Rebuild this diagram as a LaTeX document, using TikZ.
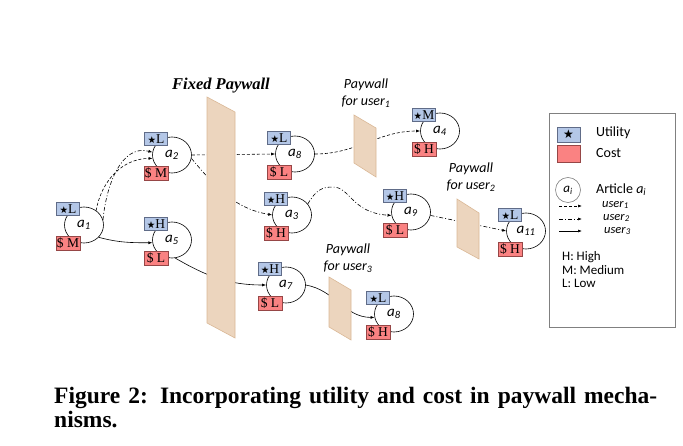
\documentclass[tikz,border=0pt]{standalone}
\usepackage{fontspec}
\setmainfont{Carlito}
\newfontfamily\serfont{Liberation Serif}
\newfontfamily\symfont{DejaVu Sans}
\usetikzlibrary{arrows.meta,shapes.geometric}
\definecolor{utilfill}{RGB}{180,199,231}
\definecolor{utilline}{RGB}{96,108,136}
\definecolor{costfill}{RGB}{250,130,130}
\definecolor{costline}{RGB}{150,70,70}
\definecolor{wallfill}{RGB}{236,213,190}
\definecolor{wallline}{RGB}{218,184,150}
\newcommand{\blackstar}{{\symfont\fontsize{9.5}{9.5}\selectfont ★}}
\begin{document}
\begin{tikzpicture}[x=1pt,y=-1pt,>={Latex[length=4pt,width=3pt]},
  article/.style={ellipse,draw,line width=0.6pt,minimum width=39pt,minimum height=36pt,inner sep=0pt,font=\fontsize{15}{15}\selectfont\itshape},
  utility/.style={draw=utilline,fill=utilfill,minimum width=23pt,minimum height=13pt,inner sep=0pt,font=\serfont\fontsize{13.5}{13.5}\selectfont},
  cost/.style={draw=costline,fill=costfill,minimum width=24pt,minimum height=14pt,inner sep=0pt,font=\serfont\fontsize{13.5}{13.5}\selectfont},
  wall/.style={draw=wallline,fill=wallfill,line width=0.6pt},
  walllabel/.style={align=center,font=\fontsize{14}{17}\selectfont\itshape},
  user1/.style={->,line width=0.6pt,dash pattern=on 3pt off 2pt},
  user2/.style={->,line width=0.6pt,dash pattern=on 4pt off 2pt on 1pt off 2pt},
  user3/.style={->,line width=0.6pt},
  legendtext/.style={anchor=west,inner sep=0pt,font=\fontsize{14}{14}\selectfont}]
\useasboundingbox (0,0) rectangle (683,446);

% articles
\node[article] (a1) at (84,225) {a\textsubscript{1}};
\node[utility] (u1) at ([shift={(-16,-16)}]a1) {\blackstar L};
\node[cost] (c1) at ([shift={(-16,18)}]a1) {\$ M};
\node[article] (a2) at (172,155) {a\textsubscript{2}};
\node[utility] (u2) at ([shift={(-16,-16)}]a2) {\blackstar L};
\node[cost] (c2) at ([shift={(-16,18)}]a2) {\$ M};
\node[article] (a5) at (172,240) {a\textsubscript{5}};
\node[utility] (u5) at ([shift={(-16,-16)}]a5) {\blackstar H};
\node[cost] (c5) at ([shift={(-16,18)}]a5) {\$ L};
\node[article] (a8t) at (295,154) {a\textsubscript{8}};
\node[utility] (u8t) at ([shift={(-16,-16)}]a8t) {\blackstar L};
\node[cost] (c8t) at ([shift={(-16,18)}]a8t) {\$ L};
\node[article] (a3) at (292,215) {a\textsubscript{3}};
\node[utility] (u3) at ([shift={(-16,-16)}]a3) {\blackstar H};
\node[cost] (c3) at ([shift={(-16,18)}]a3) {\$ H};
\node[article] (a7) at (286,285) {a\textsubscript{7}};
\node[utility] (u7) at ([shift={(-16,-16)}]a7) {\blackstar H};
\node[cost] (c7) at ([shift={(-16,18)}]a7) {\$ L};
\node[article] (a4) at (440,131) {a\textsubscript{4}};
\node[utility] (u4) at ([shift={(-16,-16)}]a4) {\blackstar M};
\node[cost] (c4) at ([shift={(-16,18)}]a4) {\$ H};
\node[article] (a9) at (411,212) {a\textsubscript{9}};
\node[utility] (u9) at ([shift={(-16,-16)}]a9) {\blackstar H};
\node[cost] (c9) at ([shift={(-16,18)}]a9) {\$ L};
\node[article] (a8b) at (394,314) {a\textsubscript{8}};
\node[utility] (u8b) at ([shift={(-16,-16)}]a8b) {\blackstar L};
\node[cost] (c8b) at ([shift={(-16,18)}]a8b) {\$ H};
\node[article] (a11) at (526,231) {a\textsubscript{11}};
\node[utility] (u11) at ([shift={(-16,-16)}]a11) {\blackstar L};
\node[cost] (c11) at ([shift={(-16,18)}]a11) {\$ H};

% reading paths
\draw[user1] (a1.50) to[out=80,in=180] (a2.190);
\draw[user2] (a1.15) to[out=85,in=165] (a2.172);
\draw[user3] (a1.-40) to[out=-15,in=180] (a5.188);
\draw[user1] (a2.east) -- (a8t.west);
\draw[user2] (a2.-10) to[out=-50,in=170] (a3.west);
\draw[user3] (a5.-80) to[out=-30,in=180] (a7.west);
\draw[user1] (a8t.east) to[out=0,in=180] (a4.west);
\draw[user2] (a3.35) .. controls (316,190) and (322,187) .. (333,187) .. controls (350,187) and (352,213) .. (a9.190);
\draw[user2] (a9.-10) -- (a11.west);
\draw[user3] (a7.east) to[out=-10,in=180] (a8b.190);

% paywalls
\draw[wall] (207,97) -- (235,112) -- (235,338) -- (207,323) -- cycle;
\draw[wall] (354,115) -- (376,128) -- (376,177) -- (354,163) -- cycle;
\draw[wall] (457,199) -- (479,213) -- (479,259) -- (457,247) -- cycle;
\draw[wall] (329,277) -- (351,290) -- (351,340) -- (329,327) -- cycle;
\node[font=\serfont\bfseries\itshape\fontsize{16.5}{16.5}\selectfont] (fixlbl) at (221,86) {Fixed Paywall};
\node[walllabel] (wl1) at (366,93) {Paywall\\for user\textsubscript{1}};
\node[walllabel] (wl2) at (471,177) {Paywall\\for user\textsubscript{2}};
\node[walllabel] (wl3) at (348,258) {Paywall\\for user\textsubscript{3}};

% legend
\node[draw=gray,line width=0.6pt,minimum width=126pt,minimum height=214pt,inner sep=0pt] (legend) at (612,220) {};
\node[utility,minimum height=15pt] (lu) at (568.5,134.5) {{\symfont\fontsize{12}{12}\selectfont ★}};
\node[cost,minimum width=23pt,minimum height=17pt] (lc) at (568.5,153.5) {};
\node[legendtext] (lut) at (596,133) {Utility};
\node[legendtext] (lct) at (596,153) {Cost};
\node[article,draw=gray,minimum width=25pt,minimum height=25pt,font=\fontsize{13}{13}\selectfont\itshape] (la) at (568,190) {a\textsubscript{i}};
\node[legendtext] (lat) at (596,190) {Article \textit{a\textsubscript{i}}};
\coordinate (l1s) at (559,206); \coordinate (l1e) at (582,206);
\coordinate (l2s) at (559,219); \coordinate (l2e) at (582,219);
\coordinate (l3s) at (559,231); \coordinate (l3e) at (582,231);
\draw[user1] (l1s) -- (l1e);
\draw[user2] (l2s) -- (l2e);
\draw[user3] (l3s) -- (l3e);
\node[legendtext,font=\fontsize{12.5}{12.5}\selectfont] (lt1) at (602,205) {\textit{user\textsubscript{1}}};
\node[legendtext,font=\fontsize{12.5}{12.5}\selectfont] (lt2) at (603,218) {\textit{user\textsubscript{2}}};
\node[legendtext,font=\fontsize{12.5}{12.5}\selectfont] (lt3) at (604,231) {\textit{user\textsubscript{3}}};
\node[legendtext,font=\fontsize{13}{13}\selectfont] (lh) at (562,257) {H: High};
\node[legendtext,font=\fontsize{13}{13}\selectfont] (lm) at (562,270) {M: Medium};
\node[legendtext,font=\fontsize{13}{13}\selectfont] (ll) at (562,283) {L: Low};

% caption
\node[anchor=base west,inner sep=0pt,font=\serfont\bfseries\fontsize{23.5}{25}\selectfont] (cap1) at (54,403) {\makebox[603pt][s]{Figure 2: Incorporating utility and cost in paywall mecha-}};
\node[anchor=base west,inner sep=0pt,font=\serfont\bfseries\fontsize{23.5}{25}\selectfont] (cap2) at (54,428) {nisms.};
\end{tikzpicture}
\end{document}
